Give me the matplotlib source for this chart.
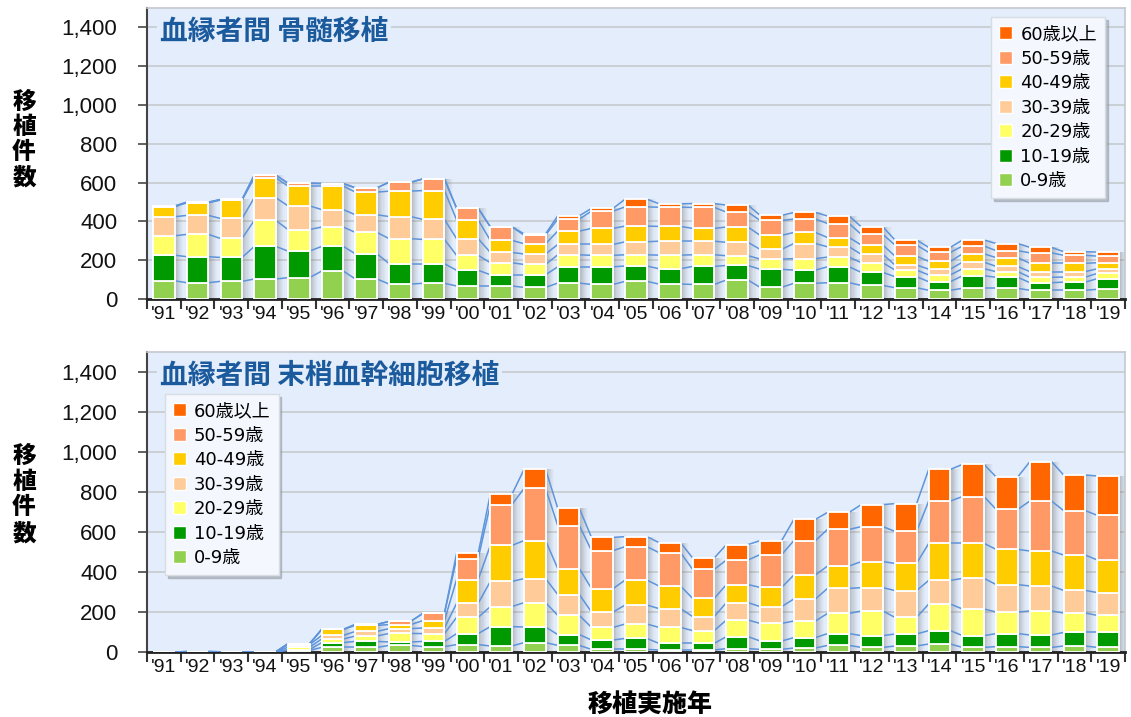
import numpy as np
import matplotlib
matplotlib.use("Agg")
import matplotlib.pyplot as plt
from matplotlib.patches import Patch

plt.rcParams['font.family'] = ['DejaVu Sans', 'Noto Sans CJK JP']

years = ["'91", "'92", "'93", "'94", "'95", "'96", "'97", "'98", "'99", "'00",
         "'01", "'02", "'03", "'04", "'05", "'06", "'07", "'08", "'09", "'10",
         "'11", "'12", "'13", "'14", "'15", "'16", "'17", "'18", "'19"]
age_labels = ["0-9歳", "10-19歳", "20-29歳", "30-39歳", "40-49歳", "50-59歳", "60歳以上"]
age_colors = ["#92D050", "#009900", "#FFFF66", "#FFCC99", "#FFCC00", "#FF9966", "#FF6600"]

# 血縁者間 骨髄移植
bm_0_9 = [94, 84, 91, 103, 110, 144, 103, 77, 81, 67, 67, 60, 82, 75, 91, 77, 75, 98, 60, 81,
          84, 70, 58, 45, 55, 55, 45, 45, 50]
bm_10_19 = [132, 134, 123, 168, 137, 127, 130, 105, 101, 81, 58, 65, 84, 91, 79, 79, 93, 75, 93, 68,
            82, 67, 57, 44, 65, 57, 39, 42, 55]
bm_20_29 = [100, 115, 98, 134, 111, 100, 110, 129, 125, 77, 62, 53, 62, 59, 58, 70, 60, 50, 53, 59,
            50, 50, 34, 35, 36, 29, 28, 26, 27]
bm_30_39 = [98, 98, 103, 117, 122, 90, 91, 114, 103, 86, 53, 54, 53, 56, 67, 72, 70, 69, 50, 78,
            53, 43, 26, 30, 34, 27, 29, 28, 24]
bm_40_49 = [51, 65, 95, 102, 102, 121, 117, 131, 149, 97, 62, 53, 69, 83, 81, 76, 66, 79, 72, 57,
            48, 48, 46, 40, 43, 45, 43, 43, 31]
bm_50_59 = [4, 3, 3, 14, 15, 13, 22, 46, 60, 60, 70, 44, 62, 89, 99, 99, 108, 77, 77, 69,
            72, 55, 57, 46, 40, 36, 54, 41, 34]
bm_60 = [0, 0, 0, 0, 0, 0, 0, 0, 0, 0, 0, 7, 17, 14, 40, 18, 20, 36, 26, 34,
         39, 39, 26, 26, 31, 37, 28, 19, 21]

# 血縁者間 末梢血幹細胞移植
pb_0_9 = [0, 0, 0, 0, 8, 23, 23, 33, 27, 37, 30, 47, 33, 13, 13, 10, 10, 17, 13, 20,
          33, 23, 30, 40, 23, 27, 23, 30, 23]
pb_10_19 = [0, 0, 0, 0, 4, 24, 30, 17, 26, 55, 97, 78, 54, 47, 55, 33, 33, 60, 42, 52,
            59, 59, 60, 67, 59, 65, 62, 68, 75]
pb_20_29 = [0, 0, 0, 0, 12, 18, 27, 43, 39, 81, 100, 122, 96, 63, 72, 80, 64, 83, 88, 83,
            101, 123, 83, 133, 133, 108, 120, 97, 85]
pb_30_39 = [0, 2, 1, 1, 12, 18, 23, 24, 28, 70, 126, 120, 104, 77, 95, 94, 70, 87, 84, 110,
            125, 117, 134, 118, 153, 137, 125, 113, 114]
pb_40_49 = [0, 0, 0, 0, 5, 30, 30, 20, 37, 119, 180, 190, 130, 117, 125, 113, 91, 90, 96, 120,
            112, 130, 136, 185, 175, 176, 175, 177, 163]
pb_50_59 = [0, 0, 0, 0, 0, 0, 5, 16, 36, 105, 204, 261, 215, 190, 167, 167, 145, 123, 164, 172,
            183, 175, 160, 212, 234, 200, 250, 222, 223]
pb_60 = [0, 0, 0, 0, 0, 0, 0, 0, 0, 26, 51, 95, 86, 66, 50, 50, 57, 77, 70, 106,
         85, 110, 139, 158, 161, 162, 197, 178, 197]

bm_series = [bm_0_9, bm_10_19, bm_20_29, bm_30_39, bm_40_49, bm_50_59, bm_60]
pb_series = [pb_0_9, pb_10_19, pb_20_29, pb_30_39, pb_40_49, pb_50_59, pb_60]

W, H = 1131, 717
fig = plt.figure(figsize=(W / 100, H / 100), dpi=100)
fig.patch.set_facecolor("white")

BG = "#E3EDFB"
TITLE_C = "#1B5A9C"
LINE_C = "#5E94DA"
TICK_FONT = ["Liberation Sans", "DejaVu Sans"]


def draw(ax, series, title, title_y, legend_anchor, legend_loc):
    x = np.arange(len(years))
    bw = 0.64
    data = np.array(series, dtype=float)
    cum = np.cumsum(data, axis=0)
    total = cum[-1]
    ax.set_facecolor(BG)
    ax.set_xlim(-0.5, len(years) - 0.5)
    ax.set_ylim(0, 1500)
    ax.set_yticks(np.arange(0, 1401, 200))
    ax.set_yticklabels([f"{v:,}" for v in range(0, 1401, 200)], fontsize=16, color="#111111",
                       family=TICK_FONT)
    ax.yaxis.grid(True, color="#C9CDD3", lw=1.3, zorder=0.5)
    ax.set_axisbelow(True)
    # shadows
    nstr = 8
    dw = 0.26 / nstr
    for k in range(nstr):
        ax.bar(x + bw / 2 + k * dw + dw / 2, total, width=dw, color="#707070",
               alpha=0.42 * (1 - k / nstr) ** 1.3, linewidth=0, zorder=2)
    # connectors
    for lvl in range(cum.shape[0]):
        for i in range(len(x) - 1):
            ax.plot([x[i] + bw / 2, x[i + 1] - bw / 2], [cum[lvl, i], cum[lvl, i + 1]],
                    color=LINE_C, lw=1.1, zorder=3, solid_capstyle="butt")
    bottom = np.zeros(len(x))
    for s, c in zip(data, age_colors):
        ax.bar(x, s, bw, bottom=bottom, color=c, edgecolor="white", linewidth=1.3, zorder=4)
        bottom += s
    ax.set_xticks(x)
    ax.set_xticklabels(years, fontsize=14, color="#111111", family=TICK_FONT)
    ax.tick_params(axis="x", which="major", length=0, pad=5)
    ax.set_xticks(np.arange(-0.5, len(years), 1.0), minor=True)
    ax.tick_params(axis="x", which="minor", length=7, width=1.5, color="#333333")
    ax.tick_params(axis="y", length=6.5, width=1.3, color="#555555", pad=15)
    for sp in ["top", "right"]:
        ax.spines[sp].set_color("#C4C8CE")
        ax.spines[sp].set_linewidth(1.2)
    ax.spines["left"].set_color("#444444")
    ax.spines["left"].set_linewidth(1.5)
    ax.spines["bottom"].set_color("#222222")
    ax.spines["bottom"].set_linewidth(2)
    ax.text(0.013, title_y, title, transform=ax.transAxes, ha="left", va="center",
            fontsize=20, fontweight="bold", color=TITLE_C, family="Noto Sans CJK JP",
            zorder=6, bbox=dict(facecolor=BG, edgecolor="none", pad=2))
    handles = [Patch(facecolor=c, edgecolor="white", label=l)
               for c, l in zip(age_colors[::-1], age_labels[::-1])]
    leg = ax.legend(handles=handles, loc=legend_loc, bbox_to_anchor=legend_anchor,
                    fontsize=13, handlelength=0.7, handleheight=0.7, handletextpad=0.45,
                    labelspacing=0.36, borderpad=0.45, frameon=True, fancybox=False,
                    shadow={"color": "#9aa0a8", "alpha": 0.6}, borderaxespad=0)
    leg.get_frame().set_facecolor("#F4F8FE")
    leg.get_frame().set_edgecolor("#D8DDE4")
    leg.get_frame().set_alpha(1)
    leg.set_zorder(10)


ax1 = fig.add_axes([147 / W, 1 - 299 / H, 978 / W, 291 / H])
draw(ax1, bm_series, "血縁者間 骨髄移植", (299 - 32) / 291,
     ((1105 - 147) / 978, (299 - 17) / 291), "upper right")

ax2 = fig.add_axes([147 / W, 1 - 652 / H, 978 / W, 300 / H])
draw(ax2, pb_series, "血縁者間 末梢血幹細胞移植", (652 - 376) / 300,
     ((165 - 147) / 978, (652 - 394) / 300), "upper left")

ylab_chars = ["移", "植", "件", "数"]
for centers in ([102, 127, 152, 177], [456, 482, 507, 533]):
    for ch, cy in zip(ylab_chars, centers):
        fig.text(24 / W, 1 - cy / H, ch, ha="center", va="center", fontsize=17,
                 fontweight="heavy", family="Noto Sans CJK JP")
fig.text(650 / W, 1 - 704 / H, "移植実施年", ha="center", va="center", fontsize=18,
         fontweight="heavy", family="Noto Sans CJK JP")

fig.savefig("out.png", dpi=100)
